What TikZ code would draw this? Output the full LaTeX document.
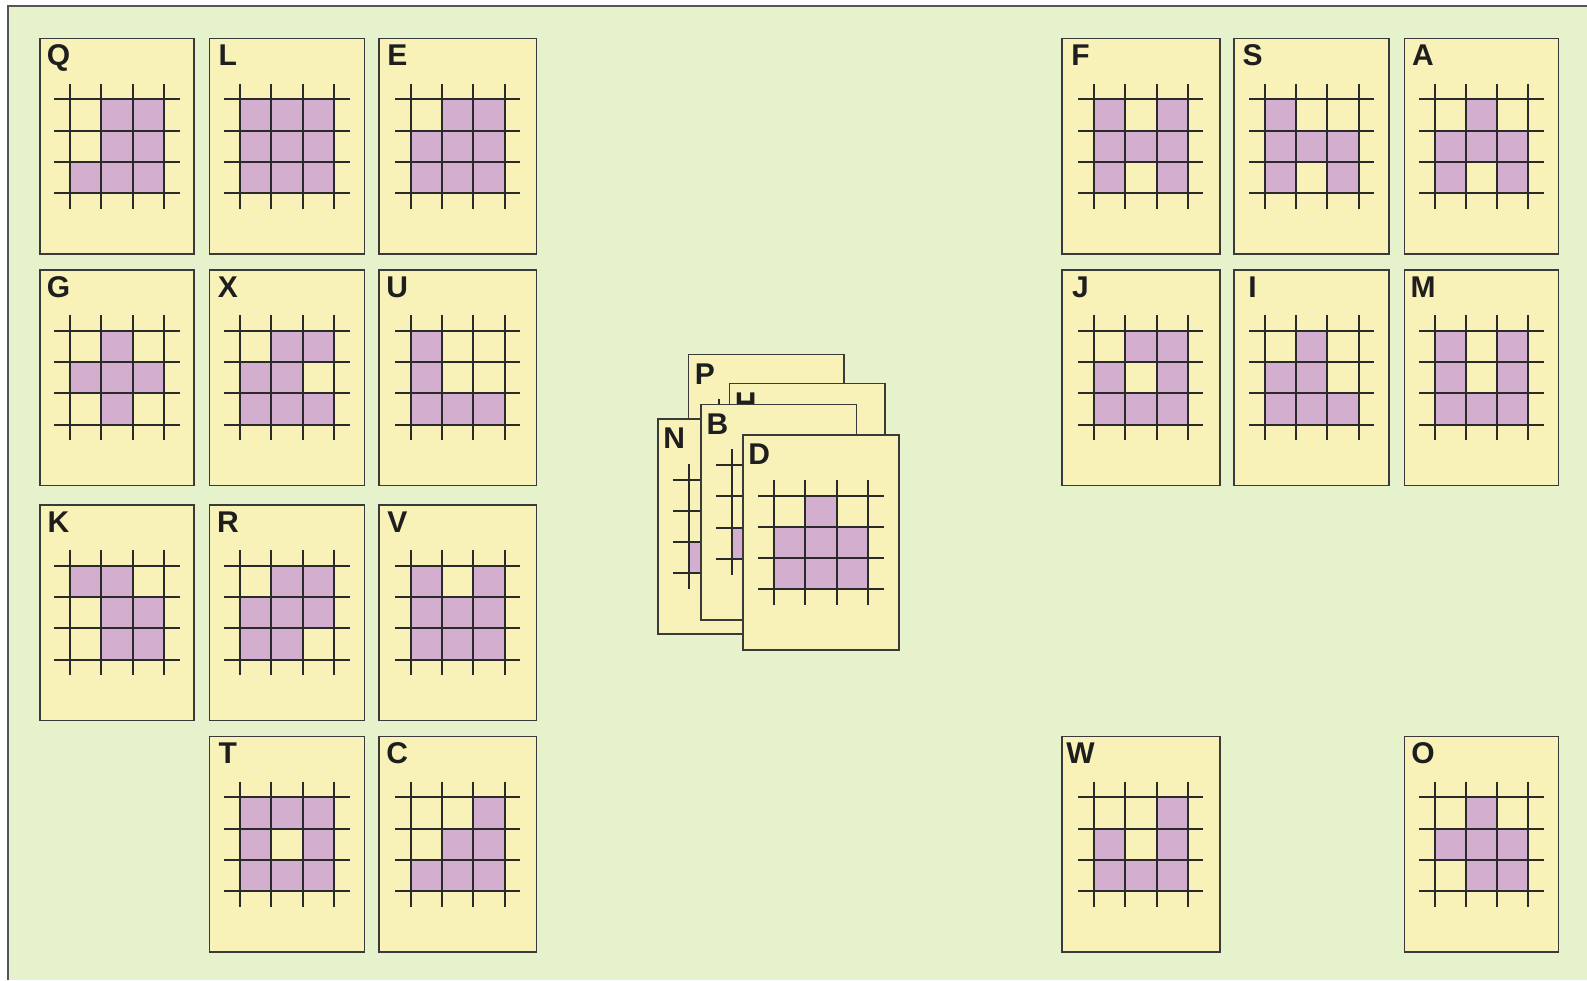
\documentclass[tikz,border=0pt]{standalone}
\usepackage{fontspec}
\setmainfont{Liberation Sans}
\definecolor{bgc}{HTML}{E6F2CB}
\definecolor{bordc}{HTML}{555555}
\definecolor{cardc}{HTML}{F9F2B8}
\definecolor{cardline}{HTML}{3A3A3A}
\definecolor{pinkc}{HTML}{D4AECE}
\definecolor{gridc}{HTML}{2A2A2A}
\definecolor{lblc}{HTML}{1E1E1E}
\def\cs{31.3}
\def\lx{18.5}
\def\ly{27}
\newcommand\mkcard[6]{%
  \node[cardbox, minimum width=#4pt] (c#1) at (#2,#3) {};
  \node[lbl] (c#1-t) at ([xshift=\lx pt,yshift=-\ly pt]c#1.north west) {#5};
  \begin{scope}[shift={(c#1.center)}]
    \foreach \c/\r in {#6} \fill[pinkc] ({(\c-2.5)*\cs},{(\r-2.5)*\cs}) rectangle ++(\cs,\cs);
    \foreach \i in {0,...,3} {
      \draw[gridl] ({(\i-1.5)*\cs},{-2*\cs}) -- ({(\i-1.5)*\cs},{2*\cs});
      \draw[gridl] ({-2*\cs},{(\i-1.5)*\cs}) -- ({2*\cs},{(\i-1.5)*\cs});
    }
  \end{scope}
}
\begin{document}
\begin{tikzpicture}[x=1pt,y=-1pt,
  cardbox/.style={draw=cardline, line width=1.6pt, fill=cardc, minimum height=215.5pt, inner sep=0pt, outer sep=0pt, anchor=north west},
  lbl/.style={font=\fontsize{30}{30}\selectfont\bfseries, text=lblc, anchor=base, inner sep=0pt},
  gridl/.style={draw=gridc, line width=2pt}]
\useasboundingbox (0,0) rectangle (1587,980);
\fill[white] (0,0) rectangle (1587,980);
\fill[bgc] (8.3,6.2) rectangle (1587,980);
\draw[bordc, line width=1.8pt] (8.3,980) -- (8.3,6.2) -- (1587,6.2);
% left group
\mkcard{Q}{40}{38.5}{154}{Q}{2/1,3/1,2/2,3/2,1/3,2/3,3/3}
\mkcard{L}{209.4}{38.5}{155}{L}{1/1,2/1,3/1,1/2,2/2,3/2,1/3,2/3,3/3}
\mkcard{E}{378.8}{38.5}{157.7}{E}{2/1,3/1,1/2,2/2,3/2,1/3,2/3,3/3}
\mkcard{G}{40}{270}{154}{G}{2/1,1/2,2/2,3/2,2/3}
\mkcard{X}{209.4}{270}{155}{X}{2/1,3/1,1/2,2/2,1/3,2/3,3/3}
\mkcard{U}{378.8}{270}{157.7}{U}{1/1,1/2,1/3,2/3,3/3}
\mkcard{K}{40}{505}{154}{K}{1/1,2/1,2/2,3/2,2/3,3/3}
\mkcard{R}{209.4}{505}{155}{R}{2/1,3/1,1/2,2/2,3/2,1/3,2/3}
\mkcard{V}{378.8}{505}{157.7}{V}{1/1,3/1,1/2,2/2,3/2,1/3,2/3,3/3}
\mkcard{T}{209.4}{736.5}{155}{T}{1/1,2/1,3/1,1/2,3/2,1/3,2/3,3/3}
\mkcard{C}{378.8}{736.5}{157.7}{C}{3/1,2/2,3/2,1/3,2/3,3/3}
% right group
\mkcard{F}{1062}{38.5}{157.7}{F}{1/1,3/1,1/2,2/2,3/2,1/3,3/3}
\mkcard{S}{1234.1}{38.5}{155}{S}{1/1,1/2,2/2,3/2,1/3,3/3}
\mkcard{A}{1404.5}{38.5}{154}{A}{2/1,1/2,2/2,3/2,1/3,3/3}
\mkcard{J}{1062}{270}{157.7}{J}{2/1,3/1,1/2,3/2,1/3,2/3,3/3}
\mkcard{I}{1234.1}{270}{155}{I}{2/1,1/2,2/2,1/3,2/3,3/3}
\mkcard{M}{1404.5}{270}{154}{M}{1/1,3/1,1/2,3/2,1/3,2/3,3/3}
\mkcard{W}{1062}{736.5}{157.7}{W}{3/1,1/2,3/2,1/3,2/3,3/3}
\mkcard{O}{1404.5}{736.5}{154}{O}{2/1,1/2,2/2,3/2,2/3,3/3}
% stacked cards
\def\lx{16.5}
\def\ly{30}
\mkcard{P}{688.3}{354.3}{155.5}{P}{2/2}
\mkcard{H}{729.3}{383.3}{155.5}{H}{2/2}
\mkcard{N}{657.7}{418.7}{155.5}{N}{1/3,2/3}
\mkcard{B}{701}{404.3}{155.5}{B}{1/3,2/3}
\mkcard{D}{742.7}{434.7}{156.5}{D}{2/1,1/2,2/2,3/2,1/3,2/3,3/3}
\end{tikzpicture}
\end{document}
